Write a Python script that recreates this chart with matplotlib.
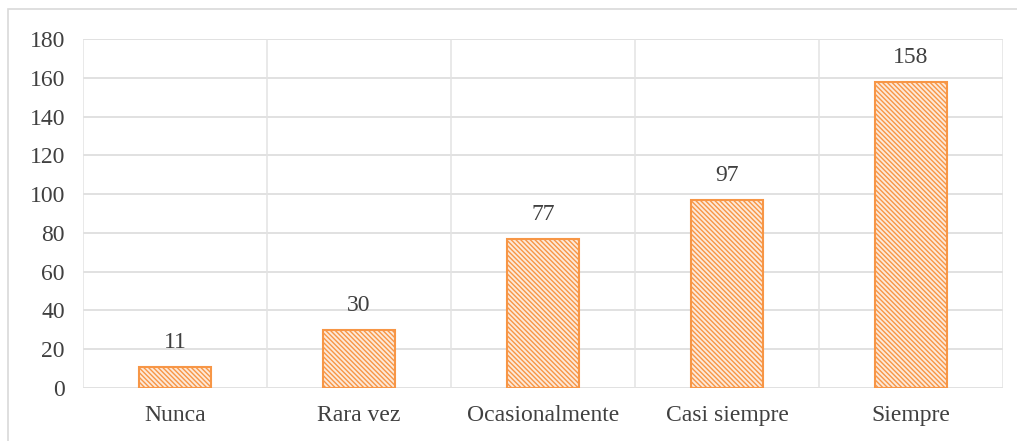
import numpy as np
import matplotlib.pyplot as plt
from matplotlib.patches import Rectangle

categories = ["Nunca", "Rara vez", "Ocasionalmente", "Casi siempre", "Siempre"]
values = [11, 30, 77, 97, 158]
yticks = [0, 20, 40, 60, 80, 100, 120, 140, 160, 180]

plt.rcParams['font.family'] = ['Liberation Serif', 'DejaVu Serif']
plt.rcParams['hatch.linewidth'] = 1.0

fig = plt.figure(figsize=(10.17, 4.41), dpi=100)
ax = fig.add_axes([83 / 1017, 53 / 441, 920 / 1017, 349 / 441])

# outer chart border
fig.patches.append(Rectangle((8 / 1017, -0.05), 1.2, (441 - 9) / 441 + 0.05,
                             transform=fig.transFigure, fill=False,
                             edgecolor='#d9d9d9', linewidth=1.2))

x = np.arange(len(categories))
bars = ax.bar(x, values, width=0.39, facecolor='#fde9d9', edgecolor='#f79646',
              hatch='\\\\\\\\\\\\\\', linewidth=1.5, zorder=3)

for xi, v in zip(x, values):
    ax.text(xi, v + 7, str(v), ha='center', va='bottom', fontsize=17, color='#404040')

ax.set_xlim(-0.5, len(categories) - 0.5)
ax.set_ylim(0, 180)
ax.set_yticks(yticks)
ax.set_xticks(x)
ax.set_xticklabels(categories, fontsize=17, color='#404040')
ax.tick_params(axis='y', labelsize=17, labelcolor='#404040', length=0, pad=13)
ax.tick_params(axis='x', length=0, pad=12)

# gridlines: horizontal at ticks, vertical between categories
for yv in yticks:
    ax.axhline(yv, color='#d9d9d9', linewidth=1.1, zorder=1)
for b in np.arange(-0.5, len(categories), 1.0):
    ax.axvline(b, color='#e3e3e3', linewidth=1.1, zorder=1)

for s in ax.spines.values():
    s.set_visible(False)

fig.savefig('out.png', dpi=100)
